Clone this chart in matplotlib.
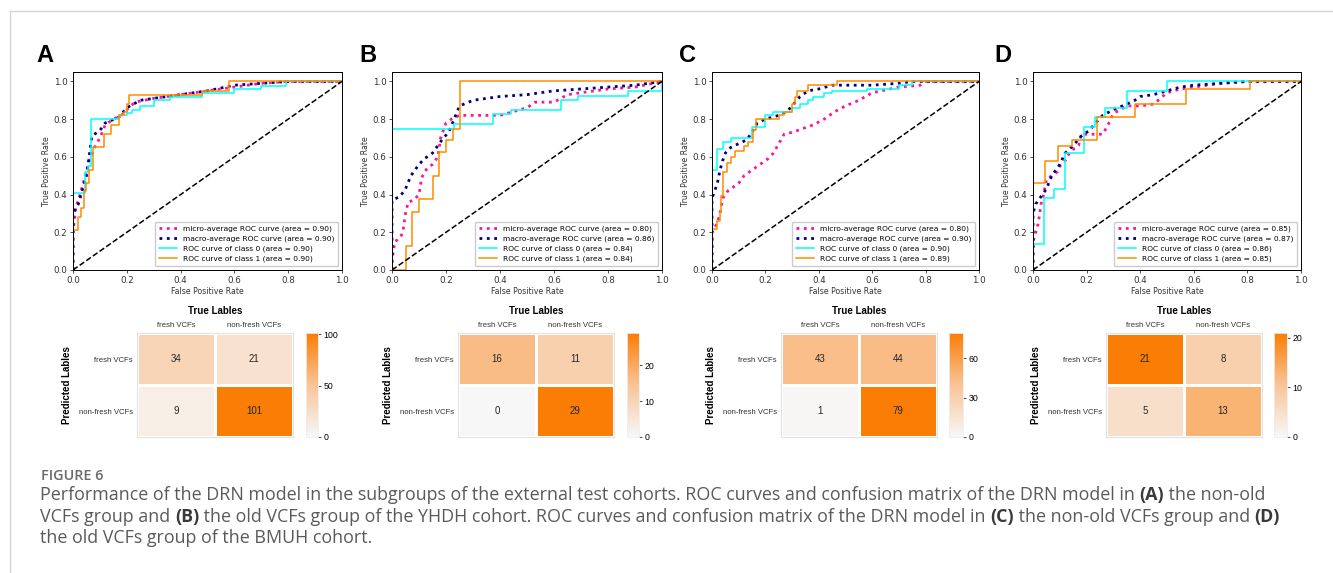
"""Figure 6: ROC curves + confusion matrices for the four subgroups (A-D)."""
import numpy as np
import matplotlib
matplotlib.use("Agg")
import matplotlib.pyplot as plt
from matplotlib.colors import LinearSegmentedColormap
from matplotlib.lines import Line2D

W, H = 1333, 573

# ---- ROC data (fpr, tpr) ----
PANELS = ["A", "B", "C", "D"]

micro_area = [0.90, 0.80, 0.80, 0.85]
macro_area = [0.90, 0.86, 0.90, 0.87]
cls0_area = [0.90, 0.84, 0.90, 0.86]
cls1_area = [0.90, 0.84, 0.89, 0.85]

# panel A
a_c0_fpr = [0, 0, 0.043, 0.043, 0.055, 0.055, 0.068, 0.068, 0.17, 0.17, 0.2, 0.2, 0.22, 0.22, 0.25, 0.25, 0.3, 0.3, 0.36, 0.36, 0.48, 0.48, 0.6, 0.6, 0.7, 0.7, 0.79, 0.79, 1.0]
a_c0_tpr = [0, 0.41, 0.41, 0.52, 0.52, 0.55, 0.55, 0.80, 0.80, 0.82, 0.82, 0.83, 0.83, 0.85, 0.85, 0.87, 0.87, 0.90, 0.90, 0.92, 0.92, 0.94, 0.94, 0.96, 0.96, 0.975, 0.975, 1.0, 1.0]
a_c1_fpr = [0, 0, 0.02, 0.02, 0.03, 0.03, 0.04, 0.04, 0.05, 0.05, 0.06, 0.06, 0.075, 0.075, 0.115, 0.115, 0.14, 0.14, 0.17, 0.17, 0.19, 0.19, 0.2, 0.2, 0.21, 0.21, 0.48, 0.48, 0.58, 0.58, 1.0]
a_c1_tpr = [0, 0.21, 0.21, 0.28, 0.28, 0.33, 0.33, 0.42, 0.42, 0.46, 0.46, 0.53, 0.53, 0.65, 0.65, 0.72, 0.72, 0.77, 0.77, 0.82, 0.82, 0.84, 0.84, 0.88, 0.88, 0.93, 0.93, 0.95, 0.95, 1.0, 1.0]
a_mi_fpr = [0, 0, 0.01, 0.02, 0.03, 0.04, 0.05, 0.06, 0.08, 0.1, 0.12, 0.15, 0.18, 0.2, 0.23, 0.3, 0.4, 0.5, 0.6, 0.7, 0.8, 1.0]
a_mi_tpr = [0, 0.2, 0.33, 0.37, 0.42, 0.47, 0.52, 0.58, 0.65, 0.7, 0.77, 0.8, 0.82, 0.85, 0.89, 0.91, 0.93, 0.95, 0.97, 0.99, 1.0, 1.0]
a_ma_fpr = [0, 0, 0.02, 0.03, 0.05, 0.06, 0.07, 0.1, 0.12, 0.17, 0.2, 0.25, 0.35, 0.5, 0.6, 0.7, 0.8, 1.0]
a_ma_tpr = [0, 0.3, 0.35, 0.4, 0.5, 0.6, 0.71, 0.74, 0.78, 0.81, 0.86, 0.9, 0.92, 0.95, 0.98, 0.99, 1.0, 1.0]

# panel B
b_c0_fpr = [0, 0, 0.23, 0.23, 0.375, 0.375, 0.44, 0.44, 0.625, 0.625, 0.69, 0.69, 0.875, 0.875, 1.0, 1.0]
b_c0_tpr = [0, 0.75, 0.75, 0.775, 0.775, 0.825, 0.825, 0.85, 0.85, 0.90, 0.90, 0.925, 0.925, 0.95, 0.95, 1.0]
b_c1_fpr = [0, 0.05, 0.05, 0.075, 0.075, 0.1, 0.1, 0.15, 0.15, 0.175, 0.175, 0.2, 0.2, 0.225, 0.225, 0.25, 0.25, 1.0]
b_c1_tpr = [0, 0, 0.125, 0.125, 0.31, 0.31, 0.375, 0.375, 0.5, 0.5, 0.625, 0.625, 0.6875, 0.6875, 0.75, 0.75, 1.0, 1.0]
b_mi_fpr = [0, 0, 0.01, 0.03, 0.04, 0.05, 0.06, 0.08, 0.1, 0.11, 0.13, 0.15, 0.17, 0.18, 0.2, 0.22, 0.25, 0.4, 0.45, 0.5, 0.53, 0.6, 0.65, 0.7, 0.8, 0.9, 1.0]
b_mi_tpr = [0, 0.05, 0.15, 0.17, 0.2, 0.3, 0.36, 0.37, 0.4, 0.49, 0.54, 0.56, 0.6, 0.7, 0.78, 0.8, 0.82, 0.82, 0.84, 0.86, 0.89, 0.89, 0.93, 0.94, 0.96, 0.97, 1.0]
b_ma_fpr = [0, 0, 0.03, 0.05, 0.07, 0.1, 0.12, 0.15, 0.17, 0.19, 0.21, 0.23, 0.25, 0.3, 0.4, 0.5, 0.6, 0.7, 0.8, 0.9, 1.0]
b_ma_tpr = [0, 0.37, 0.39, 0.43, 0.5, 0.56, 0.59, 0.62, 0.66, 0.7, 0.73, 0.8, 0.87, 0.9, 0.92, 0.93, 0.95, 0.96, 0.97, 0.98, 1.0]

# panel C
c_c0_fpr = [0, 0, 0.02, 0.02, 0.04, 0.04, 0.07, 0.07, 0.15, 0.15, 0.2, 0.2, 0.23, 0.23, 0.3, 0.3, 0.33, 0.33, 0.36, 0.36, 0.38, 0.38, 0.42, 0.42, 0.45, 0.45, 0.58, 0.58, 0.7, 0.7, 0.75, 0.75, 1.0]
c_c0_tpr = [0, 0.53, 0.53, 0.64, 0.64, 0.68, 0.68, 0.70, 0.70, 0.76, 0.76, 0.82, 0.82, 0.84, 0.84, 0.86, 0.86, 0.88, 0.88, 0.90, 0.90, 0.92, 0.92, 0.94, 0.94, 0.95, 0.95, 0.96, 0.96, 0.98, 0.98, 1.0, 1.0]
c_c1_fpr = [0, 0, 0.02, 0.02, 0.03, 0.03, 0.035, 0.035, 0.04, 0.04, 0.055, 0.055, 0.07, 0.07, 0.085, 0.085, 0.12, 0.12, 0.135, 0.135, 0.155, 0.155, 0.165, 0.165, 0.25, 0.25, 0.27, 0.27, 0.3, 0.3, 0.31, 0.31, 0.32, 0.32, 0.36, 0.36, 0.47, 0.47, 1.0]
c_c1_tpr = [0, 0.22, 0.22, 0.26, 0.26, 0.31, 0.31, 0.39, 0.39, 0.52, 0.52, 0.57, 0.57, 0.60, 0.60, 0.63, 0.63, 0.66, 0.66, 0.68, 0.68, 0.74, 0.74, 0.80, 0.80, 0.82, 0.82, 0.84, 0.84, 0.88, 0.88, 0.92, 0.92, 0.95, 0.95, 0.98, 0.98, 1.0, 1.0]
c_mi_fpr = [0, 0, 0.02, 0.03, 0.04, 0.06, 0.08, 0.1, 0.12, 0.15, 0.18, 0.21, 0.23, 0.25, 0.27, 0.3, 0.34, 0.38, 0.42, 0.46, 0.5, 0.55, 0.6, 0.7, 0.78, 0.8, 1.0]
c_mi_tpr = [0, 0.2, 0.25, 0.3, 0.38, 0.42, 0.44, 0.46, 0.5, 0.53, 0.56, 0.59, 0.62, 0.67, 0.72, 0.73, 0.75, 0.77, 0.8, 0.84, 0.87, 0.9, 0.94, 0.97, 0.98, 1.0, 1.0]
c_ma_fpr = [0, 0, 0.01, 0.02, 0.03, 0.04, 0.05, 0.07, 0.1, 0.13, 0.15, 0.17, 0.2, 0.25, 0.28, 0.3, 0.33, 0.36, 0.4, 0.45, 0.6, 0.7, 0.75, 1.0]
c_ma_tpr = [0, 0.38, 0.42, 0.46, 0.53, 0.58, 0.62, 0.65, 0.67, 0.69, 0.73, 0.78, 0.8, 0.82, 0.84, 0.87, 0.92, 0.95, 0.96, 0.98, 0.98, 0.99, 1.0, 1.0]

# panel D
d_c0_fpr = [0, 0, 0.04, 0.04, 0.08, 0.08, 0.12, 0.12, 0.19, 0.19, 0.23, 0.23, 0.27, 0.27, 0.35, 0.35, 0.5, 0.5, 1.0]
d_c0_tpr = [0, 0.14, 0.14, 0.38, 0.38, 0.43, 0.43, 0.62, 0.62, 0.76, 0.76, 0.81, 0.81, 0.86, 0.86, 0.95, 0.95, 1.0, 1.0]
d_c1_fpr = [0, 0, 0.045, 0.045, 0.095, 0.095, 0.145, 0.145, 0.24, 0.24, 0.38, 0.38, 0.57, 0.57, 0.81, 0.81, 1.0]
d_c1_tpr = [0, 0.46, 0.46, 0.58, 0.58, 0.655, 0.655, 0.69, 0.69, 0.81, 0.81, 0.88, 0.88, 0.96, 0.96, 1.0, 1.0]
d_mi_fpr = [0, 0, 0.02, 0.03, 0.04, 0.05, 0.07, 0.09, 0.1, 0.12, 0.14, 0.17, 0.18, 0.21, 0.26, 0.28, 0.3, 0.35, 0.4, 0.45, 0.5, 0.55, 0.6, 0.7, 0.8, 1.0]
d_mi_tpr = [0, 0.15, 0.25, 0.35, 0.4, 0.48, 0.5, 0.52, 0.55, 0.58, 0.63, 0.66, 0.72, 0.72, 0.72, 0.77, 0.83, 0.87, 0.87, 0.88, 0.94, 0.96, 0.97, 0.99, 1.0, 1.0]
d_ma_fpr = [0, 0, 0.01, 0.03, 0.05, 0.07, 0.1, 0.12, 0.15, 0.18, 0.21, 0.24, 0.26, 0.3, 0.35, 0.38, 0.4, 0.45, 0.5, 0.55, 0.6, 0.7, 0.8, 1.0]
d_ma_tpr = [0, 0.3, 0.35, 0.39, 0.43, 0.5, 0.56, 0.62, 0.66, 0.71, 0.74, 0.79, 0.82, 0.85, 0.88, 0.9, 0.92, 0.93, 0.95, 0.97, 0.98, 0.99, 1.0, 1.0]

roc_curves = {
    "A": (a_mi_fpr, a_mi_tpr, a_ma_fpr, a_ma_tpr, a_c0_fpr, a_c0_tpr, a_c1_fpr, a_c1_tpr),
    "B": (b_mi_fpr, b_mi_tpr, b_ma_fpr, b_ma_tpr, b_c0_fpr, b_c0_tpr, b_c1_fpr, b_c1_tpr),
    "C": (c_mi_fpr, c_mi_tpr, c_ma_fpr, c_ma_tpr, c_c0_fpr, c_c0_tpr, c_c1_fpr, c_c1_tpr),
    "D": (d_mi_fpr, d_mi_tpr, d_ma_fpr, d_ma_tpr, d_c0_fpr, d_c0_tpr, d_c1_fpr, d_c1_tpr),
}

# ---- confusion matrices (rows = predicted, cols = true) ----
class_names = ["fresh VCFs", "non-fresh VCFs"]
cm_A = [[34, 21], [9, 101]]
cm_B = [[16, 11], [0, 29]]
cm_C = [[43, 44], [1, 79]]
cm_D = [[21, 8], [5, 13]]
cms = {"A": cm_A, "B": cm_B, "C": cm_C, "D": cm_D}
cbar_ticks = {"A": [0, 50, 100], "B": [0, 10, 20], "C": [0, 30, 60], "D": [0, 10, 20]}

caption_title = "FIGURE 6"
caption_lines = [
    [("Performance of the DRN model in the subgroups of the external test cohorts. "
      "ROC curves and confusion matrix of the DRN model in ", False), ("(A)", True),
     (" the non-old", False)],
    [("VCFs group and ", False), ("(B)", True),
     (" the old VCFs group of the YHDH cohort. ROC curves and confusion matrix of the "
      "DRN model in ", False), ("(C)", True), (" the non-old VCFs group and ", False),
     ("(D)", True)],
    [("the old VCFs group of the BMUH cohort.", False)],
]

# ---- layout in pixels (left, right) ----
roc_x = {"A": (73, 342), "B": (392, 662), "C": (712, 979), "D": (1033, 1301)}
hm_x = {"A": (137, 293), "B": (458, 614), "C": (781, 937), "D": (1106, 1262)}
cb_x = {"A": (306, 318), "B": (627, 639), "C": (949, 963), "D": (1274, 1287)}
letter_x = {"A": 45, "B": 368, "C": 688, "D": 1003}


def rect(x0, x1, ytop, ybot):
    return [x0 / W, 1 - ybot / H, (x1 - x0) / W, (ybot - ytop) / H]


cmap = LinearSegmentedColormap.from_list("wo", ["#f7f7f7", "#f9c496", "#fa7d05"])
ARIAL = ["Liberation Sans", "DejaVu Sans"]

fig = plt.figure(figsize=(W / 100, H / 100), dpi=100)

for i, p in enumerate(PANELS):
    ax = fig.add_axes(rect(*roc_x[p], 72, 270))
    mi_f, mi_t, ma_f, ma_t, c0_f, c0_t, c1_f, c1_t = roc_curves[p]
    ax.plot(mi_f, mi_t, color="deeppink", ls=":", lw=2.0,
            label=f"micro-average ROC curve (area = {micro_area[i]:.2f})")
    ax.plot(ma_f, ma_t, color="navy", ls=":", lw=2.0,
            label=f"macro-average ROC curve (area = {macro_area[i]:.2f})")
    ax.plot(c0_f, c0_t, color="aqua", lw=1.1,
            label=f"ROC curve of class 0 (area = {cls0_area[i]:.2f})")
    ax.plot(c1_f, c1_t, color="darkorange", lw=1.1,
            label=f"ROC curve of class 1 (area = {cls1_area[i]:.2f})")
    ax.plot([0, 1], [0, 1], "k--", lw=1.1)
    ax.set_xlim(0.0, 1.0)
    ax.set_ylim(0.0, 1.05)
    ax.set_xticks(np.arange(0, 1.01, 0.2))
    ax.set_yticks(np.arange(0, 1.01, 0.2))
    ax.tick_params(labelsize=6.3, length=2.5, width=0.6, pad=1.5, colors="#333333")
    for s in ax.spines.values():
        s.set_linewidth(0.7)
    ax.set_xlabel("False Positive Rate", fontsize=5.6, labelpad=1.5, color="#333333")
    ax.set_ylabel("True Positive Rate", fontsize=5.6, labelpad=2, color="#333333")
    ax.legend(loc="lower right", fontsize=5.4, handlelength=2.4, borderpad=0.5,
              labelspacing=0.45, framealpha=1, edgecolor="#cccccc", fancybox=True)
    fig.text(letter_x[p] / W, 1 - 55 / H, p, fontsize=17, fontweight="bold",
             ha="center", va="center", family=ARIAL)

    # confusion matrix
    cm = np.array(cms[p])
    hax = fig.add_axes(rect(*hm_x[p], 333, 437))
    cax = fig.add_axes(rect(*cb_x[p], 333, 437))
    mesh = hax.pcolormesh(cm, cmap=cmap, vmin=0, vmax=cm.max(),
                          edgecolors="white", linewidth=0.8)
    hax.set_xlim(0, 2)
    hax.set_ylim(2, 0)
    for r in range(2):
        for c in range(2):
            hax.text(c + 0.5, r + 0.5, str(cm[r, c]), ha="center", va="center",
                     fontsize=7, color="#262626", family=ARIAL)
    hax.xaxis.tick_top()
    hax.set_xticks([0.5, 1.5])
    hax.set_xticklabels(class_names, fontsize=5.6, family=ARIAL, color="#333333")
    hax.set_yticks([0.5, 1.5])
    hax.set_yticklabels(class_names, fontsize=5.6, family=ARIAL, color="#333333")
    hax.tick_params(length=0, pad=3)
    for s in hax.spines.values():
        s.set_color("#e2e2e2")
        s.set_linewidth(0.8)
    hax.set_title("True Lables", fontsize=7, fontweight="bold", family=ARIAL, pad=14)
    hax.set_ylabel("Predicted Lables", fontsize=7, fontweight="bold", family=ARIAL,
                   labelpad=5)
    cb = fig.colorbar(mesh, cax=cax)
    cb.set_ticks(cbar_ticks[p])
    cb.ax.tick_params(labelsize=6.3, length=2, width=0.5, pad=2)
    for t in cb.ax.get_yticklabels():
        t.set_family(ARIAL)
    cb.outline.set_edgecolor("#eeeeee")
    cb.outline.set_linewidth(0.6)

# ---- frame lines ----
fig.add_artist(Line2D([10 / W, 10 / W], [0, 1 - 11 / H], color="#d4d4d4", lw=1.0))
fig.add_artist(Line2D([10 / W, 1], [1 - 11 / H, 1 - 11 / H], color="#d4d4d4", lw=1.0))

# ---- caption: pieces chained left to right so bold parts sit inline ----
CAP_FONT = ["Open Sans", "DejaVu Sans"]
cap_ax = fig.add_axes([0, 0, 1, 1])
cap_ax.set_axis_off()
cap_ax.set_xlim(0, W)
cap_ax.set_ylim(H, 0)
cap_ax.text(41, 476, caption_title, fontsize=10.4, color="#6a6a6a",
            family=CAP_FONT, fontweight="semibold", va="center", ha="left")

line_y = [495, 517, 538]
for y, parts in zip(line_y, caption_lines):
    prev = None
    for txt, bold in parts:
        kw = dict(fontsize=12.9, color="#3a3a3a" if bold else "#5a5a5a",
                  family=CAP_FONT, fontweight="bold" if bold else "normal",
                  va="baseline", ha="left")
        if prev is None:
            prev = cap_ax.text(40, y + 5, txt, **kw)
        else:
            prev = cap_ax.annotate(txt, xy=(1, 0), xycoords=prev,
                                   xytext=(0, 0), textcoords="offset points",
                                   annotation_clip=False, **kw)
            prev.set_va("bottom")

fig.savefig("out.png", dpi=100, facecolor="white")
